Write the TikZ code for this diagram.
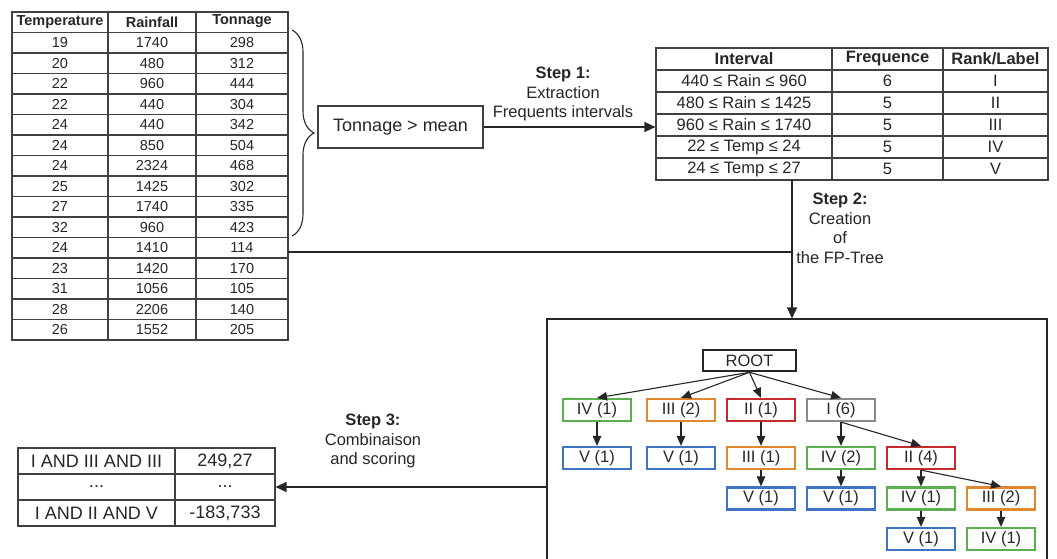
\documentclass[tikz,border=0pt]{standalone}
\usepackage{fontspec}
\setmainfont{Liberation Sans}
\usetikzlibrary{arrows.meta,decorations.pathreplacing}

\definecolor{lblI}{HTML}{8A8A8A}
\definecolor{lblII}{HTML}{C42A2E}
\definecolor{lblIII}{HTML}{E0872F}
\definecolor{lblIV}{HTML}{5BAF4F}
\definecolor{lblV}{HTML}{3D74C4}

\newcommand{\fsdata}{\fontsize{14.5}{16}\selectfont}
\newcommand{\fsmid}{\fontsize{16.5}{19.5}\selectfont}
\newcommand{\fsbig}{\fontsize{18}{20}\selectfont}

\begin{document}
\begin{tikzpicture}[x=1pt, y=-1pt, font=\fsmid, text=black!85,
  grid/.style={draw=black!75, line width=1.1pt},
  link/.style={-{Triangle[length=11pt,width=10pt]}, line width=1.2pt, black!85},
  treelink/.style={-{Triangle[length=10pt,width=8.5pt]}, line width=1.1pt, black!85},
  fp/.style={draw=#1, line width=2.2pt, minimum width=68, minimum height=22, inner sep=0pt}]

\path[use as bounding box, clip] (0,0) rectangle (1057,558);

% ── Tableau des donnees ───────────────────────────────────────
\node[grid, minimum width=276, minimum height=328, inner sep=0pt] (data) at (150,176) {};
\foreach \y in {1,...,15}
    \draw[grid] (12,12+\y*20.5) -- (288,12+\y*20.5);
\foreach \x in {108,196}
    \draw[grid] (\x,12) -- (\x,340);
\node[font=\fsdata\bfseries] (htemp) at (60,22)  {Temperature};
\node[font=\fsdata\bfseries] (hrain) at (152,22) {Rainfall};
\node[font=\fsdata\bfseries] (hton)  at (242,21) {Tonnage};
\foreach \tm/\ra/\tn [count=\i] in {19/1740/298, 20/480/312, 22/960/444,
        22/440/304, 24/440/342, 24/850/504, 24/2324/468, 25/1425/302,
        27/1740/335, 32/960/423, 24/1410/114, 23/1420/170, 31/1056/105,
        28/2206/140, 26/1552/205} {
    \node[font=\fsdata] (tm\i) at (60,22.25+\i*20.5)  {\tm};
    \node[font=\fsdata] (ra\i) at (152,22.25+\i*20.5) {\ra};
    \node[font=\fsdata] (tn\i) at (242,22.25+\i*20.5) {\tn};
}

% ── Accolade et filtre ────────────────────────────────────────
\draw[decorate, decoration={brace, amplitude=22}, line width=1.1pt, black!85]
    (292,30) -- (292,236);
\node[grid, minimum width=165, minimum height=42, font=\fsbig] (mean) at (400.5,127)
    {Tonnage > mean};

% ── Tableau des intervalles ───────────────────────────────────
\node[grid, minimum width=392, minimum height=132, inner sep=0pt] (itab) at (852,114) {};
\foreach \y in {70,92,114,136,158}
    \draw[grid] (656,\y) -- (1048,\y);
\foreach \x in {832,943}
    \draw[grid] (\x,48) -- (\x,180);
\node[font=\fsmid\bfseries] (hint)  at (744,59)   {Interval};
\node[font=\fsmid\bfseries] (hfreq) at (887.5,59) {Frequence};
\node[font=\fsmid\bfseries] (hrank) at (995.5,59) {Rank/Label};
\foreach \iv/\fq/\rk [count=\i] in {440 ≤ Rain ≤ 960/6/I, 480 ≤ Rain ≤ 1425/5/II,
        960 ≤ Rain ≤ 1740/5/III, 22 ≤ Temp ≤ 24/5/IV, 24 ≤ Temp ≤ 27/5/V} {
    \node (iv\i) at (744,59+\i*22)   {\iv};
    \node (fq\i) at (887.5,59+\i*22) {\fq};
    \node (rk\i) at (995.5,59+\i*22) {\rk};
}

% ── Etape 1 ───────────────────────────────────────────────────
\draw[link] (mean.east) -- (mean.east -| itab.west);
\node[align=center] (step1) at (563,94)
    {\textbf{Step 1:}\\Extraction\\Frequents intervals};

% ── Etape 2 ───────────────────────────────────────────────────
\node[draw=black!85, line width=1.1pt, minimum width=500, minimum height=336,
    inner sep=0pt] (fptree) at (797,487) {};
\coordinate (s2) at (792,180);
\coordinate (split) at (288,252);
\draw[line width=1.1pt, black!85] (split) -- (split -| s2);
\draw[link] (s2) -- (s2 |- fptree.north);
\node[align=center] (step2) at (840,228.5)
    {\textbf{Step 2:}\\Creation\\of\\the FP-Tree};

% ── FP-Tree ───────────────────────────────────────────────────
\node[fp=black!85, line width=2.6pt, minimum width=93, minimum height=21] (root)
    at (749.5,360.5) {ROOT};
\node[fp=lblIV]  (n4a) at (597,410) {IV (1)};
\node[fp=lblIII] (n3a) at (681,410) {III (2)};
\node[fp=lblII]  (n2a) at (761,410) {II (1)};
\node[fp=lblI]   (n1)  at (841,410) {I (6)};
\node[fp=lblV]   (v4a) at (597,458) {V (1)};
\node[fp=lblV]   (v3a) at (681,458) {V (1)};
\node[fp=lblIII] (n3b) at (761,458) {III (1)};
\node[fp=lblIV]  (n4b) at (841,458) {IV (2)};
\node[fp=lblII]  (n2b) at (921,458) {II (4)};
\node[fp=lblV]   (v3b) at (761,498.5) {V (1)};
\node[fp=lblV]   (v4b) at (841,498.5) {V (1)};
\node[fp=lblIV]  (n4c) at (921,498.5) {IV (1)};
\node[fp=lblIII] (n3c) at (1001,498.5) {III (2)};
\node[fp=lblV]   (v4c) at (921,539) {V (1)};
\node[fp=lblIV]  (n4d) at (1001,539) {IV (1)};

\foreach \c in {n4a,n3a,n2a,n1}
    \draw[treelink] (root.south) -- (\c.north);
\foreach \a/\b in {n4a/v4a, n3a/v3a, n2a/n3b, n3b/v3b, n1/n4b, n1/n2b,
        n4b/v4b, n2b/n4c, n2b/n3c, n4c/v4c, n3c/n4d}
    \draw[treelink] (\a.south) -- (\b.north);

% ── Etape 3 : resultats ───────────────────────────────────────
\node[grid, minimum width=257, minimum height=78, inner sep=0pt] (res) at (146.5,487) {};
\foreach \y in {474,500}
    \draw[grid] (18,\y) -- (275,\y);
\draw[grid] (175,448) -- (175,526);
\node[font=\fsbig] (c1) at (96.5,461) {I AND III AND III};
\node[font=\fsbig] (s1) at (225,461)  {249,27};
\node[font=\fsbig] (c2) at (96.5,487) {...};
\node[font=\fsbig] (s2b) at (225,487) {...};
\node[font=\fsbig] (c3) at (96.5,513) {I AND II AND V};
\node[font=\fsbig] (s3) at (225,513)  {-183,733};

\draw[link] (fptree.west) -- (res.east);
\node[align=center] (step3) at (373,441)
    {\textbf{Step 3:}\\Combinaison\\and scoring};

\end{tikzpicture}
\end{document}
